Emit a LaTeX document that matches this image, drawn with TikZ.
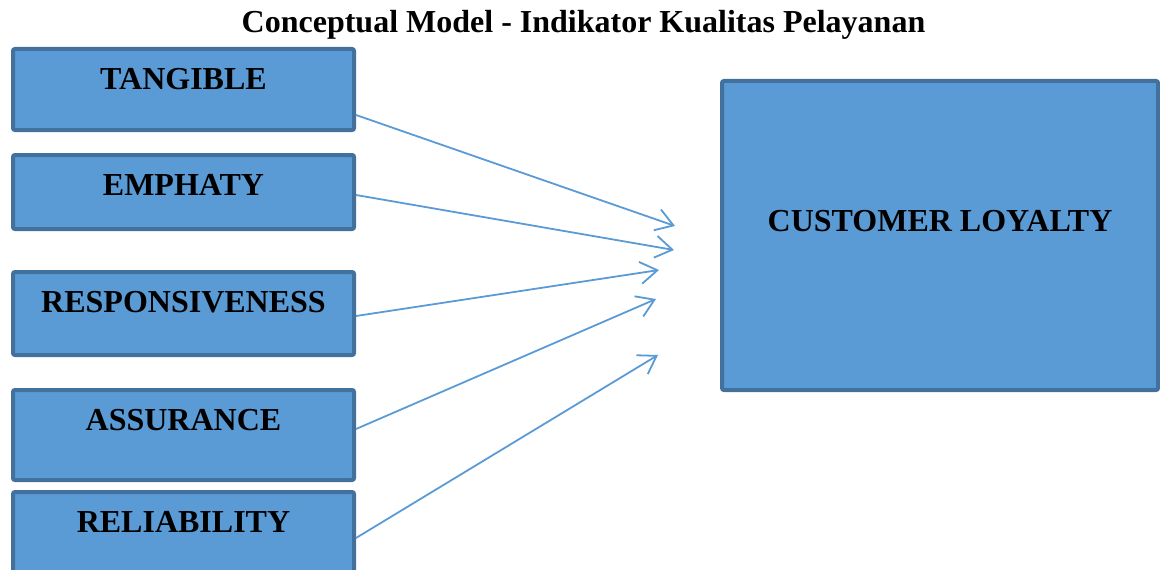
\documentclass[tikz,border=0pt]{standalone}
\usepackage{fontspec}
\setmainfont{Liberation Serif}
\usetikzlibrary{arrows.meta}

\definecolor{kotakisi}{HTML}{5B9BD5}
\definecolor{kotakgaris}{HTML}{41719C}

\begin{document}
\begin{tikzpicture}[
    x=0.5pt, y=0.5pt,          % 1単位 = 元画像の1ピクセル
    >={Straight Barb[length=8.5pt, width=11pt]},  % 開いた矢じり
    font=\fontsize{16pt}{19pt}\selectfont\bfseries,
    % 指標ボックス（#1 = ベースラインから下枠までの深さ）
    indikator/.style={draw=kotakgaris, fill=kotakisi, line width=2pt,
        rounded corners=1pt, minimum width=170.5pt, inner xsep=0pt,
        inner ysep=0pt, text height=20pt, text depth=#1, anchor=north},
    % 矢印のスタイル
    panah/.style={->, draw=kotakisi, line width=0.9pt}
]
    \useasboundingbox (0,0) rectangle (1160,569);

    % --- 1. タイトル ---
    \node [anchor=base] (judul) at (583.5,536)
        {Conceptual Model - Indikator Kualitas Pelayanan};

    % --- 2. 左側の指標ボックス ---
    \node [indikator=20.5pt] (tangible) at (183.5,522) {TANGIBLE};
    \node [indikator=17pt] (emphaty) at (183.5,416) {EMPHATY};
    \node [indikator=21.5pt] (responsiveness) at (183.5,299) {RESPONSIVENESS};
    \node [indikator=25pt] (assurance) at (183.5,181) {ASSURANCE};
    % 下端は画像の外にはみ出る
    \node [indikator=25pt] (reliability) at (183.5,79) {RELIABILITY};

    % --- 3. 右側の大きなボックス ---
    \node [indikator=79.5pt, text height=75pt, minimum width=218pt]
        (loyalty) at (940,490) {CUSTOMER LOYALTY};

    % --- 4. 矢印（終点はボックスの手前で止まる） ---
    \coordinate (ujung1) at (675,343);
    \coordinate (ujung2) at (674,319);
    \coordinate (ujung3) at (659,299);
    \coordinate (ujung4) at (656,270);
    \coordinate (ujung5) at (658,214);

    \draw [panah] ([yshift=-12.75pt]tangible.east) -- (ujung1);
    \draw [panah] ([yshift=-1.5pt]emphaty.east) -- (ujung2);
    \draw [panah] ([yshift=-1.25pt]responsiveness.east) -- (ujung3);
    \draw [panah] ([yshift=3pt]assurance.east) -- (ujung4);
    \draw [panah] ([yshift=-0.5pt]reliability.east) -- (ujung5);

\end{tikzpicture}
\end{document}
